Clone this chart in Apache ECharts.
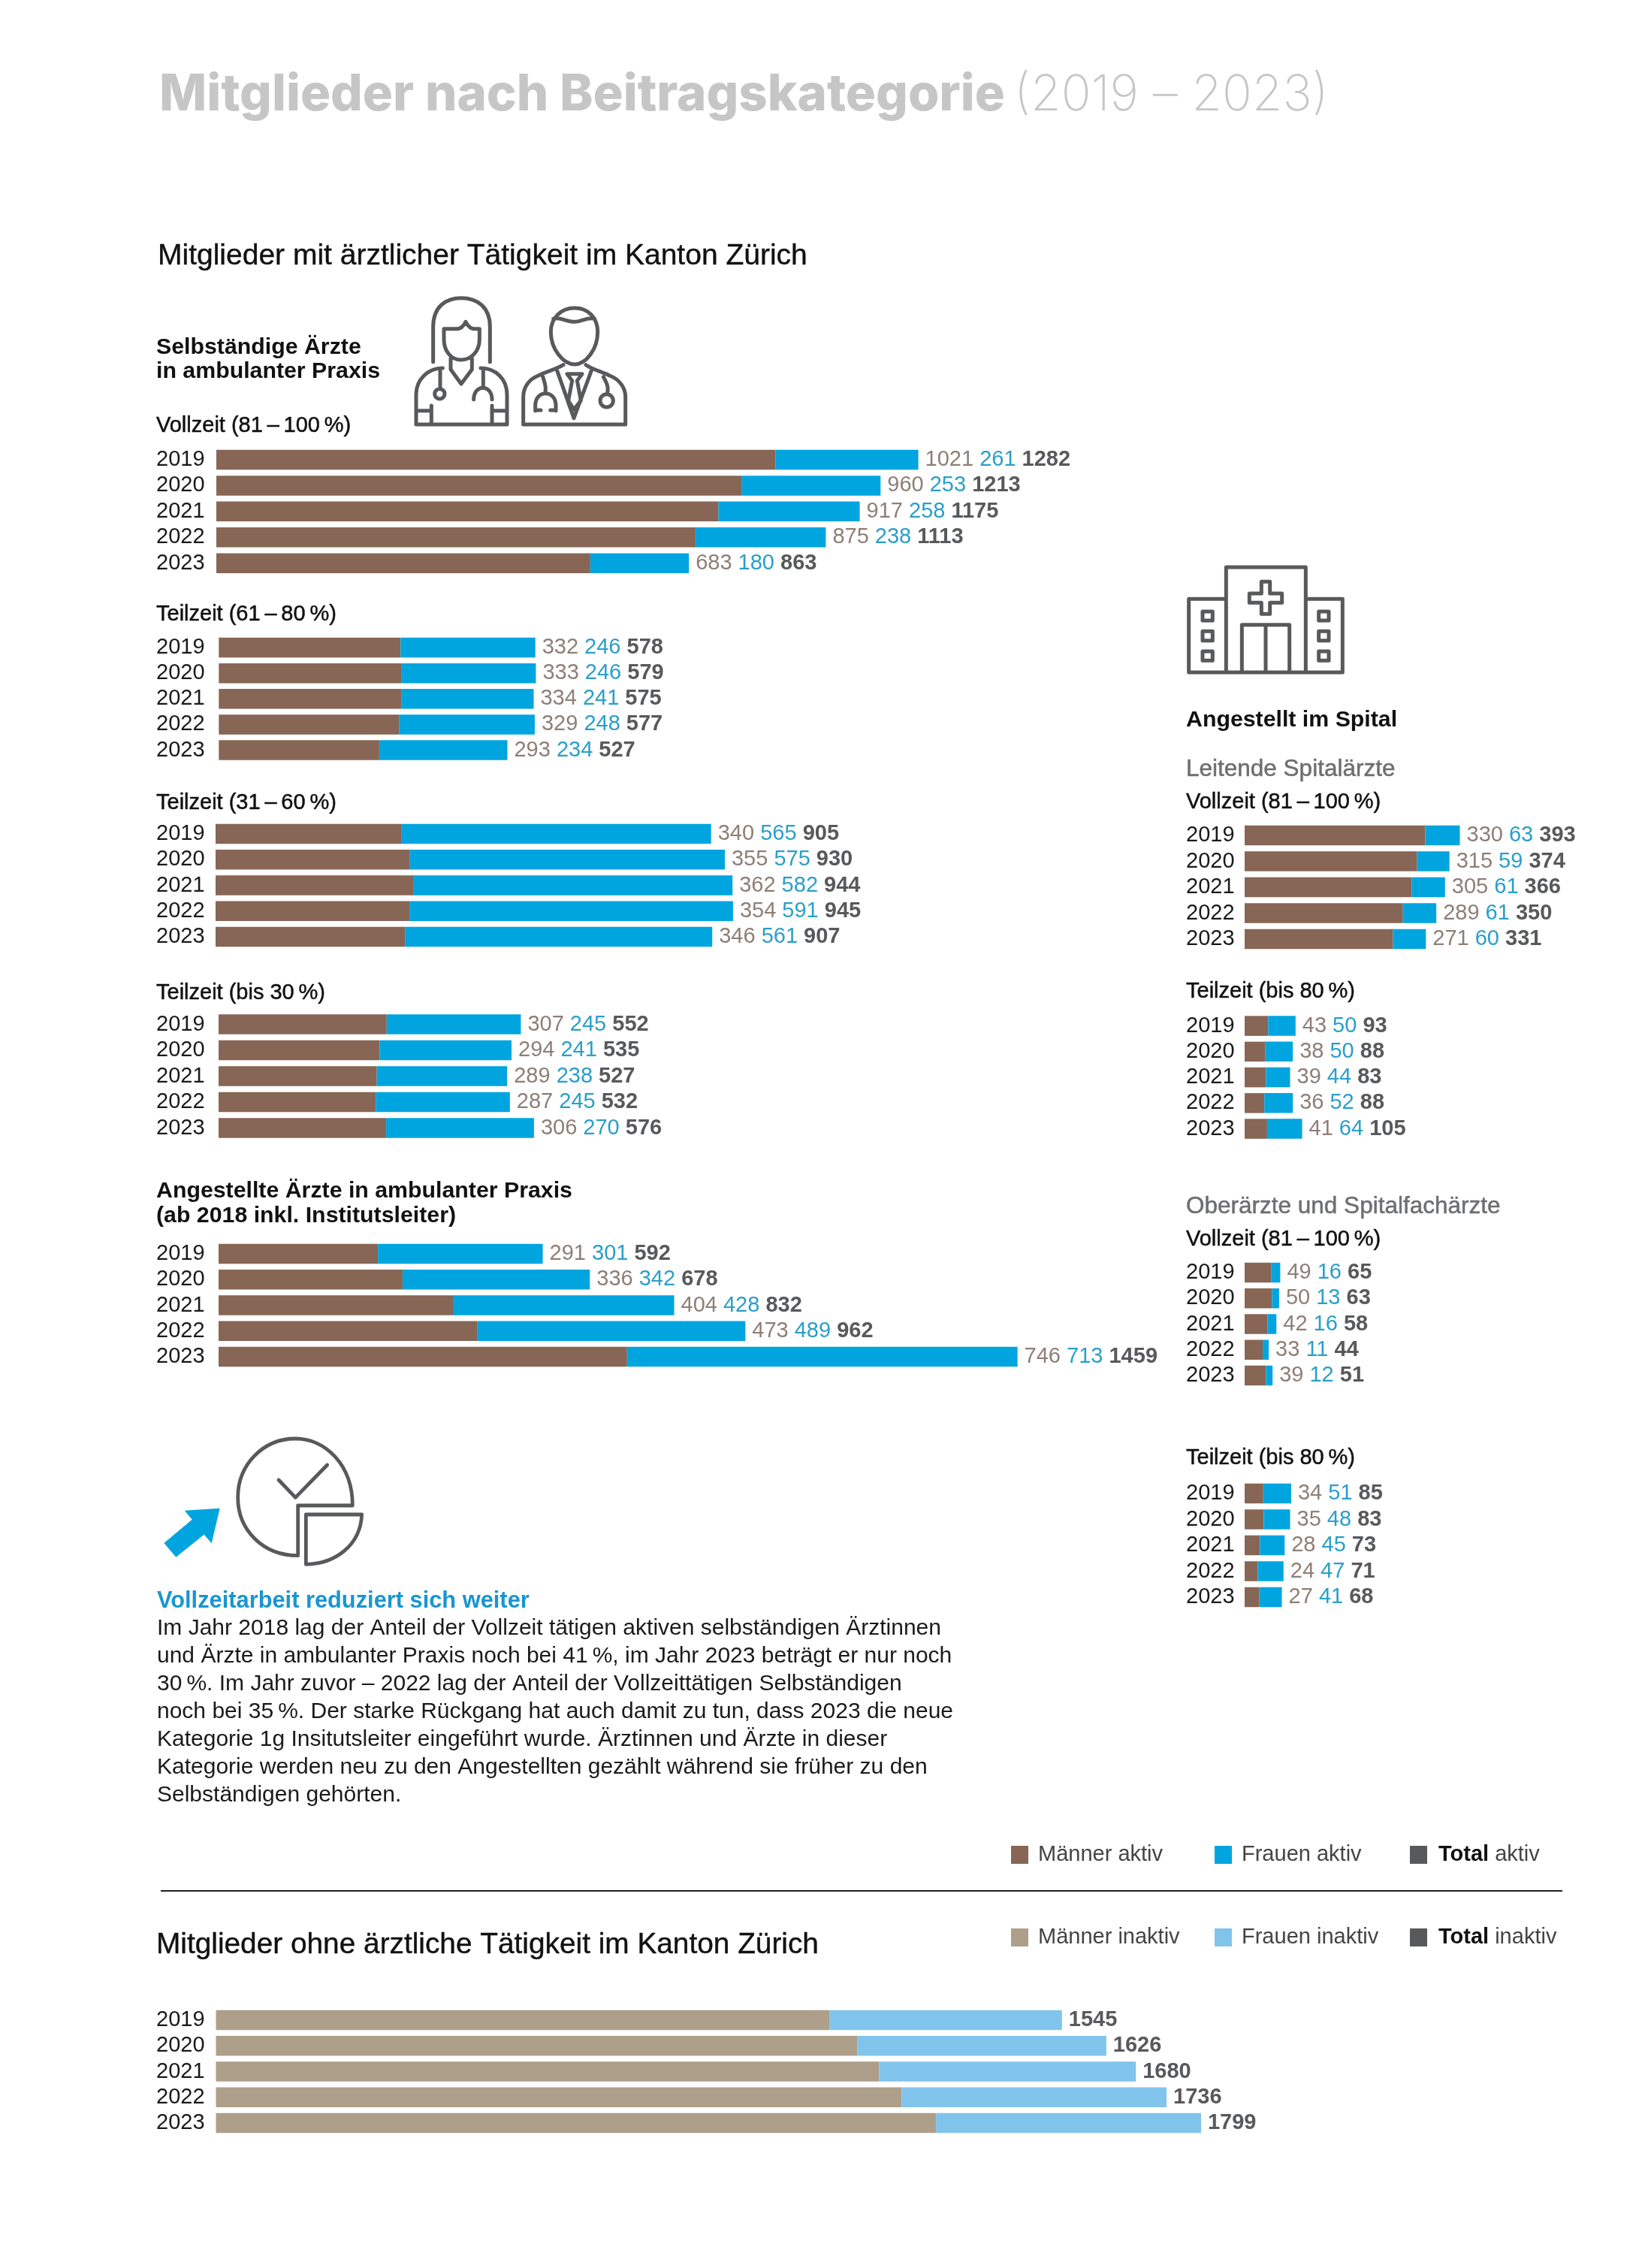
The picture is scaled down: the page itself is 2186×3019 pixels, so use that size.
<!DOCTYPE html>
<html><head><meta charset="utf-8">
<style>html,body{margin:0;padding:0;background:#fff}#c{width:2186px;height:3019px}</style>
<script src="https://cdn.jsdelivr.net/npm/echarts@6/dist/echarts.min.js"></script>
</head><body><div id="c"></div>
<script>
const years = ['2019','2020','2021','2022','2023'];

const selbVollMen = [1021,960,917,875,683];
const selbVollWomen = [261,253,258,238,180];
const selbVollTotal = [1282,1213,1175,1113,863];
const selbT61Men = [332,333,334,329,293];
const selbT61Women = [246,246,241,248,234];
const selbT61Total = [578,579,575,577,527];
const selbT31Men = [340,355,362,354,346];
const selbT31Women = [565,575,582,591,561];
const selbT31Total = [905,930,944,945,907];
const selbT30Men = [307,294,289,287,306];
const selbT30Women = [245,241,238,245,270];
const selbT30Total = [552,535,527,532,576];
const angMen = [291,336,404,473,746];
const angWomen = [301,342,428,489,713];
const angTotal = [592,678,832,962,1459];
// in the picture the 2021 segments are drawn swapped relative to their printed labels
const angBarMen = [291,336,428,473,746];
const angBarWomen = [301,342,404,489,713];
const leitVollMen = [330,315,305,289,271];
const leitVollWomen = [63,59,61,61,60];
const leitVollTotal = [393,374,366,350,331];
const leitTeilMen = [43,38,39,36,41];
const leitTeilWomen = [50,50,44,52,64];
const leitTeilTotal = [93,88,83,88,105];
const oberVollMen = [49,50,42,33,39];
const oberVollWomen = [16,13,16,11,12];
const oberVollTotal = [65,63,58,44,51];
const oberTeilMen = [34,35,28,24,27];
const oberTeilWomen = [51,48,45,47,41];
const oberTeilTotal = [85,83,73,71,68];
const inaktivMen = [1121,1171,1211,1252,1315];
const inaktivWomen = [424,455,469,484,484];
const inaktivTotal = [1545,1626,1680,1736,1799];

const FONT = '"Liberation Sans", Arial, sans-serif';
const C = {men:'#876656', women:'#00a5e0', menIn:'#ae9f8a', womenIn:'#80c4ec', total:'#58595b',
           menTxt:'#8e7f75', womenTxt:'#2a9fc9', ink:'#111111', icon:'#58595b'};
const PX_PER_UNIT = 0.729;
const NUM = 29;

// panel placement: bar-start x, first and last bar centre y
const RX = 1657, RT = 1579;
const panels = [
 {m:selbVollMen,f:selbVollWomen,t:selbVollTotal,x:288,y0:612,y1:749.7,yx:208},
 {m:selbT61Men,f:selbT61Women,t:selbT61Total,x:291.3,y0:862,y1:998.5,yx:208},
 {m:selbT31Men,f:selbT31Women,t:selbT31Total,x:287,y0:1110,y1:1247,yx:208},
 {m:selbT30Men,f:selbT30Women,t:selbT30Total,x:291,y0:1363.5,y1:1501.5,yx:208},
 {m:angMen,f:angWomen,t:angTotal,bm:angBarMen,bf:angBarWomen,x:291,y0:1669,y1:1806,yx:208},
 {m:leitVollMen,f:leitVollWomen,t:leitVollTotal,x:RX,y0:1112,y1:1250,yx:RT,w:430},
 {m:leitTeilMen,f:leitTeilWomen,t:leitTeilTotal,x:RX,y0:1365.6,y1:1502.6,yx:RT,w:430},
 {m:oberVollMen,f:oberVollWomen,t:oberVollTotal,x:RX,y0:1694,y1:1831,yx:RT,w:430},
 {m:oberTeilMen,f:oberTeilWomen,t:oberTeilTotal,x:RX,y0:1988,y1:2126,yx:RT,w:430},
 {m:inaktivMen,f:inaktivWomen,t:inaktivTotal,x:287.5,y0:2689,y1:2826,yx:208,inactive:true}
];

const grids=[],xAxes=[],yAxes=[],series=[];
panels.forEach((p,i)=>{
  const step=(p.y1-p.y0)/4, w=p.w||1500;
  grids.push({left:p.x,top:p.y0-step/2,width:w,height:step*5,containLabel:false});
  xAxes.push({type:'value',gridIndex:i,min:0,max:w/PX_PER_UNIT,show:false});
  yAxes.push({type:'category',gridIndex:i,data:years,inverse:true,
    axisLine:{show:false},axisTick:{show:false},splitLine:{show:false},
    axisLabel:{interval:0,align:'left',margin:p.x-p.yx,fontFamily:FONT,fontSize:NUM,color:'#1a1a1a'}});
  series.push({type:'bar',xAxisIndex:i,yAxisIndex:i,stack:'s'+i,data:p.bm||p.m,barWidth:26.5,silent:true,
    itemStyle:{color:p.inactive?C.menIn:C.men}});
  series.push({type:'bar',xAxisIndex:i,yAxisIndex:i,stack:'s'+i,data:p.bf||p.f,barWidth:26.5,silent:true,
    itemStyle:{color:p.inactive?C.womenIn:C.women},
    label:{show:true,position:'right',distance:9,fontFamily:FONT,fontSize:NUM,color:C.total,
      formatter:o=>p.inactive?`{t|${p.t[o.dataIndex]}}`:`{m|${p.m[o.dataIndex]}} {f|${p.f[o.dataIndex]}} {t|${p.t[o.dataIndex]}}`,
      rich:{m:{color:C.menTxt,fontFamily:FONT,fontSize:NUM},f:{color:C.womenTxt,fontFamily:FONT,fontSize:NUM},
            t:{color:C.total,fontFamily:FONT,fontSize:NUM,fontWeight:'bold'}}}});
});

function T(x,y,text,size,opt={}){
  return {type:'text',x,y,silent:true,style:{text,font:`${opt.weight||'normal'} ${size}px ${opt.family||FONT}`,
    fill:opt.color||C.ink,textVerticalAlign:'middle',textBaseline:'middle',
    stroke:opt.stroke?(opt.color||C.ink):undefined,lineWidth:opt.stroke||0}};
}
let iconId=0;
function icon(d,x,y,factor,opt={}){
  const name='iconShape'+(iconId++);
  echarts.graphic.registerShape(name,echarts.graphic.extendPath(d,{}));
  return {type:name,silent:true,x,y,scaleX:1/factor,scaleY:1/factor,shape:{},
    style:{fill:opt.fill||'none',stroke:opt.fill?'none':C.icon,lineWidth:(opt.lw||5)*factor,lineJoin:'round',lineCap:'round'}};
}
function circ(cx,cy,r){return `M${cx-r} ${cy}A${r} ${r} 0 1 0 ${cx+r} ${cy}A${r} ${r} 0 1 0 ${cx-r} ${cy}Z`;}
function sq(x0,y0,x1,y1){return `M${x0} ${y0}L${x1} ${y0}L${x1} ${y1}L${x0} ${y1}Z`;}

const doctors =
 'M110 290L110 150C110 70 160 35 222 35C285 35 337 70 337 150L337 290'+
 'M153 158L205 158C225 158 235 140 240 130C245 140 255 158 275 158L295 158L295 200C295 245 265 282 222 282C180 282 153 245 153 200Z'+
 'M180 275L180 320L222 378L265 320L265 275'+
 'M148 315C90 315 42 360 42 420L42 540L405 540L405 420C405 360 360 315 300 315'+
 'M138 318L138 398'+circ(136,418,20)+'M310 318L310 390M272 440C272 378 345 378 345 440'+
 'M103 465L103 540M42 485L103 485M345 465L345 540M345 485L405 485'+
 'M675 75C620 75 580 115 580 170C580 240 630 300 675 300C720 300 767 240 767 170C767 115 730 75 675 75Z'+
 'M590 118C620 110 640 130 675 130C705 130 725 110 755 118'+
 'M630 302C600 320 560 330 530 345C490 360 470 395 470 430L470 540L878 540L878 430C878 395 855 360 815 345C785 330 745 320 720 302'+
 'M605 325L672 515L742 325M645 338L705 338L685 365L700 445L672 480L650 445L665 365Z'+
 'M548 350C560 385 560 395 558 415M518 485L518 465C518 400 600 400 600 465L600 485M518 483L540 483M578 483L600 483'+
 'M790 350C810 385 810 400 805 418'+circ(803,445,26);
const hospital =
 'M187 172L38 172L38 465L652 465L652 172L505 172M187 465L187 45L505 45L505 465'+
 'M328 103L362 103L362 150L410 150L410 187L362 187L362 232L328 232L328 187L280 187L280 150L328 150Z'+
 'M250 465L250 275L440 275L440 465M345 275L345 465'+
 sq(93,222,133,258)+sq(93,301,133,338)+sq(93,381,133,418)+sq(557,222,597,258)+sq(557,301,597,338)+sq(557,381,597,418);
const pie =
 'M808 312C808 150 700 45 580 45C450 45 350 150 350 280C350 410 450 512 590 512L590 312Z'+
 'M622 348L845 348C840 470 740 545 622 547Z'+
 'M513 210L580 280L707 150';
const arrow='M278 323L137 332L167 368L55 462L103 518L215 428L245 463Z';

const bodyLines=[
 'Im Jahr 2018 lag der Anteil der Vollzeit tätigen aktiven selbständigen Ärztinnen',
 'und Ärzte in ambulanter Praxis noch bei 41\u2009%, im Jahr 2023 beträgt er nur noch',
 '30\u2009%. Im Jahr zuvor – 2022 lag der Anteil der Vollzeittätigen Selbständigen',
 'noch bei 35\u2009%. Der starke Rückgang hat auch damit zu tun, dass 2023 die neue',
 'Kategorie 1g Insitutsleiter eingeführt wurde. Ärztinnen und Ärzte in dieser',
 'Kategorie werden neu zu den Angestellten gezählt während sie früher zu den',
 'Selbständigen gehörten.'];

const g=[];
g.push(T(212,127,'Mitglieder nach Beitragskategorie',67,{weight:'800',family:'Inter',color:'#c6c6c6'}));
g.push(T(1350,127,'(2019 – 2023)',66,{weight:'200',family:'Inter',color:'#c6c6c6'}));
g.push(T(210,341,'Mitglieder mit ärztlicher Tätigkeit im Kanton Zürich',39,{stroke:0.4}));
const B=30.3;
g.push(T(208,463,'Selbständige Ärzte',B,{weight:'bold'}));
g.push(T(208,495,'in ambulanter Praxis',B,{weight:'bold'}));
const M={stroke:0.5};
const S=29;
g.push(T(208,567,'Vollzeit (81\u2009–\u2009100\u2009%)',S,M));
g.push(T(208,818,'Teilzeit (61\u2009–\u200980\u2009%)',S,M));
g.push(T(208,1069,'Teilzeit (31\u2009–\u200960\u2009%)',S,M));
g.push(T(208,1322,'Teilzeit (bis 30\u2009%)',S,M));
g.push(T(208,1586,'Angestellte Ärzte in ambulanter Praxis',B,{weight:'bold'}));
g.push(T(208,1619,'(ab 2018 inkl. Institutsleiter)',B,{weight:'bold'}));
g.push(T(RT,959,'Angestellt im Spital',B,{weight:'bold'}));
g.push(T(RT,1024,'Leitende Spitalärzte',31.5,{color:'#6d6e70',stroke:0.5}));
g.push(T(RT,1068,'Vollzeit (81\u2009–\u2009100\u2009%)',S,M));
g.push(T(RT,1320,'Teilzeit (bis 80\u2009%)',S,M));
g.push(T(RT,1606,'Oberärzte und Spitalfachärzte',31.5,{color:'#6d6e70',stroke:0.5}));
g.push(T(RT,1650,'Vollzeit (81\u2009–\u2009100\u2009%)',S,M));
g.push(T(RT,1941,'Teilzeit (bis 80\u2009%)',S,M));
g.push(T(209,2132,'Vollzeitarbeit reduziert sich weiter',30.8,{weight:'bold',color:'#1a96cf'}));
bodyLines.forEach((s,i)=>g.push(T(209,2168+i*37,s,30,{color:'#1a1a1a'})));
g.push(icon(doctors,540,385,3));
g.push(icon(hospital,1570,740,3));
g.push(icon(pie,200,1900,3,{lw:4.8}));
g.push(icon(arrow,200,1900,3,{fill:C.women}));
const LY1=2469, LY2=2579;
const legend=[[1346,LY1,C.men,'Männer aktiv',null],[1617,LY1,C.women,'Frauen aktiv',null],[1877,LY1,C.total,'Total',' aktiv'],
              [1346,LY2,C.menIn,'Männer inaktiv',null],[1617,LY2,C.womenIn,'Frauen inaktiv',null],[1877,LY2,C.total,'Total',' inaktiv']];
legend.forEach(([x,y,col,a,b])=>{
  g.push({type:'rect',silent:true,shape:{x,y:y-12,width:23,height:24},style:{fill:col}});
  if(b){
    g.push({type:'text',x:x+38,y,silent:true,style:{text:`{b|${a}}{r|${b}}`,font:`29px ${FONT}`,textVerticalAlign:'middle',
      rich:{b:{font:`bold 29px ${FONT}`,fill:'#111'},r:{font:`29px ${FONT}`,fill:'#444'}}}});
  } else g.push(T(x+36,y,a,29,{color:'#444'}));
});
g.push({type:'line',silent:true,shape:{x1:214,y1:2517,x2:2080,y2:2517},style:{stroke:'#222',lineWidth:2.2}});
g.push(T(208,2589,'Mitglieder ohne ärztliche Tätigkeit im Kanton Zürich',38.8,{stroke:0.4}));

const chart=echarts.init(document.getElementById('c'),null,{renderer:'canvas'});
chart.setOption({animation:false,backgroundColor:'#fff',grid:grids,xAxis:xAxes,yAxis:yAxes,series,graphic:{elements:g}});
</script></body></html>
